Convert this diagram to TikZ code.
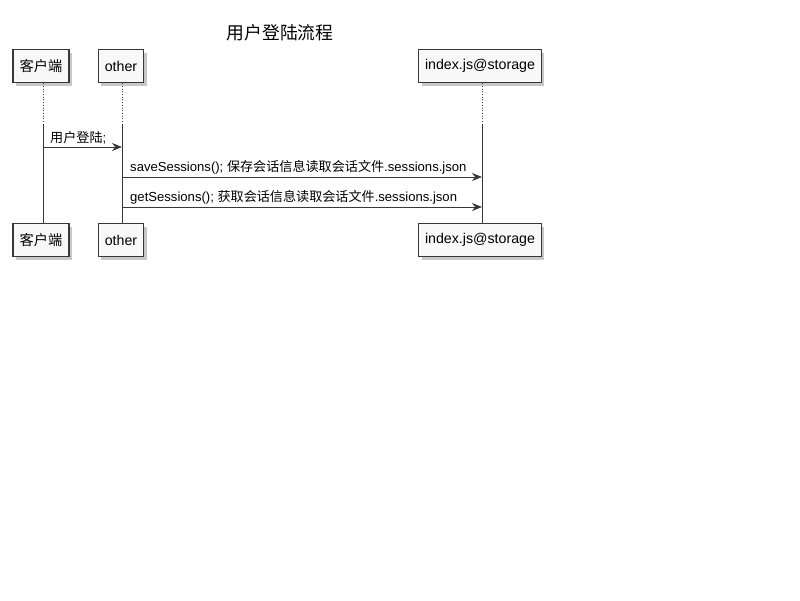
\documentclass[tikz,border=0pt]{standalone}
\usepackage{fontspec}
\setmainfont{Liberation Sans}
\newfontfamily\cjk{Noto Sans CJK SC}
\usetikzlibrary{arrows.meta,shadows}
\definecolor{boxfill}{HTML}{F8F8F8}
\definecolor{boxline}{HTML}{383838}
\definecolor{lifeline}{HTML}{383838}
\begin{document}
\begin{tikzpicture}[x=1pt,y=-1pt,
    actorbox/.style={draw=boxline, line width=1.5pt, fill=boxfill,
      minimum height=33pt, inner xsep=6.5pt, font=\fontsize{14.2}{17}\selectfont,
      drop shadow={shadow xshift=3pt, shadow yshift=-3pt, opacity=0.4, fill=black!55}},
    msg/.style={draw=lifeline, line width=0.9pt, -{Stealth[length=10pt,width=8pt]}},
    msglabel/.style={anchor=south west, inner sep=1pt, font=\fontsize{13.1}{15}\selectfont},
    life/.style={draw=lifeline, line width=0.7pt}]
  \useasboundingbox (0,0) rectangle (800,600);
  \node (title) at (280,33) {\cjk\fontsize{17.8}{21}\selectfont 用户登陆流程};
  % participants, top
  \node[actorbox] (clientT) at (41,66) {\cjk 客户端};
  \node[actorbox] (otherT) at (121,66) {other};
  \node[actorbox] (storeT) at (480,66) {index.js@storage};
  % participants, bottom
  \node[actorbox] (clientB) at (41,240) {\cjk 客户端};
  \node[actorbox] (otherB) at (121,240) {other};
  \node[actorbox] (storeB) at (480,240) {index.js@storage};
  % lifelines
  \coordinate (clientM) at (43,124);
  \coordinate (otherM) at (122,124);
  \coordinate (storeM) at (482,124);
  \draw[life, dotted] (clientT.south -| clientM) -- (clientM);
  \draw[life, dotted] (otherT.south -| otherM) -- (otherM);
  \draw[life, dotted] (storeT.south -| storeM) -- (storeM);
  \draw[life] (clientM) -- (clientB.north -| clientM);
  \draw[life] (otherM) -- (otherB.north -| otherM);
  \draw[life] (storeM) -- (storeB.north -| storeM);
  % messages
  \coordinate (m1s) at (43,147);
  \coordinate (m1e) at (122,147);
  \coordinate (m2s) at (122,177);
  \coordinate (m2e) at (482,177);
  \coordinate (m3s) at (122,207);
  \coordinate (m3e) at (482,207);
  \draw[msg] (m1s) -- (m1e);
  \draw[msg] (m2s) -- (m2e);
  \draw[msg] (m3s) -- (m3e);
  \node[msglabel] (m1l) at (49,145) {{\cjk 用户登陆};};
  \node[msglabel] (m2l) at (129,175) {saveSessions(); {\cjk 保存会话信息读取会话文件}.sessions.json};
  \node[msglabel] (m3l) at (129,205) {getSessions(); {\cjk 获取会话信息读取会话文件}.sessions.json};
\end{tikzpicture}
\end{document}
